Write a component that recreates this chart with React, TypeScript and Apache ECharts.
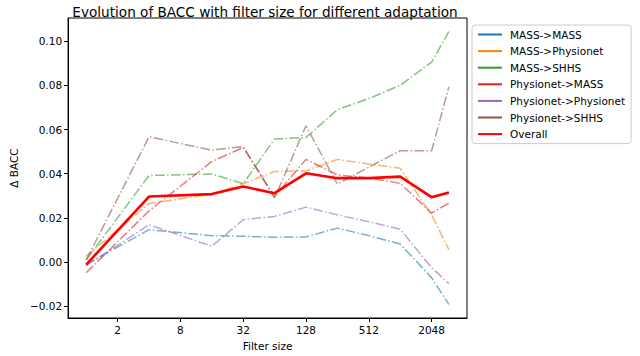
import React, { useEffect, useRef } from "react";
import * as echarts from "echarts";

const filterSizes = [1, 4, 16, 32, 64, 128, 256, 512, 1024, 2048, 3000];

const seriesNames = [
  "MASS->MASS",
  "MASS->Physionet",
  "MASS->SHHS",
  "Physionet->MASS",
  "Physionet->Physionet",
  "Physionet->SHHS",
  "Overall",
];

const massMass = [-0.001, 0.0147, 0.012, 0.0117, 0.0113, 0.0114, 0.0154, 0.012, 0.0082, -0.007, -0.0191];
const massPhysionet = [0.0027, 0.0265, 0.0307, 0.0355, 0.041, 0.0413, 0.0465, 0.0444, 0.0425, 0.0214, 0.0057];
const massShhs = [0.001, 0.0392, 0.0399, 0.0355, 0.0557, 0.0564, 0.069, 0.074, 0.08, 0.0905, 0.1043];
const physionetMass = [-0.0048, 0.0232, 0.0455, 0.0519, 0.0297, 0.0465, 0.0395, 0.038, 0.0357, 0.0222, 0.0267];
const physionetPhysionet = [-0.0016, 0.0169, 0.0072, 0.0192, 0.0207, 0.0249, 0.0214, 0.0183, 0.0149, -0.0025, -0.0097];
const physionetShhs = [0.001, 0.0567, 0.0507, 0.0523, 0.029, 0.0617, 0.0353, 0.043, 0.0504, 0.0504, 0.0793];
const overall = [-0.0011, 0.0297, 0.0308, 0.0342, 0.0312, 0.0402, 0.038, 0.038, 0.0387, 0.0294, 0.0315];

const xTickExponents = [1, 3, 5, 7, 9, 11];
const yTickValues = [-0.02, 0, 0.02, 0.04, 0.06, 0.08, 0.1];

const colors = ["#1f77b4", "#ff7f0e", "#2ca02c", "#d62728", "#9467bd", "#8c564b", "#ff0000"];

const FONT = "DejaVu Sans";

export default function App() {
  const ref = useRef<HTMLDivElement>(null);

  useEffect(() => {
    if (!ref.current) return;
    const chart = echarts.init(ref.current, undefined, { renderer: "svg" });

    const allSeries = [massMass, massPhysionet, massShhs, physionetMass, physionetPhysionet, physionetShhs, overall];
    const lx = filterSizes.map((s) => Math.log2(s));
    const xMinD = Math.min(...lx);
    const xMaxD = Math.max(...lx);
    const xSpan = xMaxD - xMinD;
    const allVals = allSeries.flat();
    const yMinD = Math.min(...allVals);
    const yMaxD = Math.max(...allVals);
    const ySpan = yMaxD - yMinD;

    const series = allSeries.map((vals, i) => {
      const isOverall = i === 6;
      return {
        name: seriesNames[i],
        type: "line",
        data: vals.map((v, j) => [Math.log2(filterSizes[j]), v]),
        symbol: "none",
        showSymbol: false,
        z: isOverall ? 10 : 2,
        lineStyle: isOverall
          ? { color: colors[i], width: 2.6, type: "solid", opacity: 1 }
          : { color: colors[i], width: 1.5, type: [9.6, 2.4, 1.5, 2.4], opacity: 0.6 },
        itemStyle: { color: colors[i] },
      };
    });

    chart.setOption({
      animation: false,
      backgroundColor: "#ffffff",
      textStyle: { fontFamily: FONT },
      title: {
        text: "Evolution of BACC with filter size for different adaptation",
        left: 260,
        top: 0,
        textAlign: "center",
        textStyle: { fontFamily: FONT, fontSize: 13.6, fontWeight: "normal", color: "#000" },
      },
      legend: {
        orient: "vertical",
        left: 472,
        top: 25,
        padding: [4, 6, 4, 5],
        itemWidth: 24,
        itemHeight: 12,
        itemGap: 5.6,
        borderColor: "#cccccc",
        borderWidth: 1,
        borderRadius: 3,
        data: seriesNames.map((n) => ({
          name: n,
          lineStyle: { type: "solid", opacity: 1, width: 2 },
          itemStyle: { opacity: 0 },
        })),
        textStyle: { fontFamily: FONT, fontSize: 10.5, color: "#000", padding: [0, 0, 0, 3] },
      },
      grid: {
        left: 60,
        top: 18,
        right: 173,
        bottom: 34,
        show: true,
        borderColor: "#000",
        borderWidth: 1,
        backgroundColor: "transparent",
      },
      xAxis: {
        type: "value",
        min: xMinD - 0.05 * xSpan,
        max: xMaxD + 0.05 * xSpan,
        name: "Filter size",
        nameLocation: "middle",
        nameGap: 22,
        nameTextStyle: { fontFamily: FONT, fontSize: 10.5, color: "#000" },
        axisLine: { show: true, onZero: false, lineStyle: { color: "#000", width: 1 } },
        axisTick: { show: true, length: 4, inside: false, customValues: xTickExponents, lineStyle: { color: "#000" } },
        axisLabel: {
          customValues: xTickExponents,
          formatter: (v: number) => String(Math.round(Math.pow(2, v))),
          fontFamily: FONT,
          fontSize: 10.5,
          color: "#000",
          margin: 6,
        },
        splitLine: { show: false },
      },
      yAxis: {
        type: "value",
        min: yMinD - 0.05 * ySpan,
        max: yMaxD + 0.05 * ySpan,
        name: "Δ BACC",
        nameLocation: "middle",
        nameGap: 43,
        nameRotate: 90,
        nameTextStyle: { fontFamily: FONT, fontSize: 10.5, color: "#000" },
        axisLine: { show: true, onZero: false, lineStyle: { color: "#000", width: 1 } },
        axisTick: { show: true, length: 4, inside: false, customValues: yTickValues, lineStyle: { color: "#000" } },
        axisLabel: {
          customValues: yTickValues,
          formatter: (v: number) => (v < 0 ? "−" + Math.abs(v).toFixed(2) : v.toFixed(2)),
          fontFamily: FONT,
          fontSize: 10.5,
          color: "#000",
          margin: 6,
        },
        splitLine: { show: false },
      },
      series,
    });

    return () => chart.dispose();
  }, []);

  return (
    <div
      ref={ref}
      style={{ position: "fixed", left: 0, top: 0, width: 640, height: 356, background: "#fff" }}
    />
  );
}
